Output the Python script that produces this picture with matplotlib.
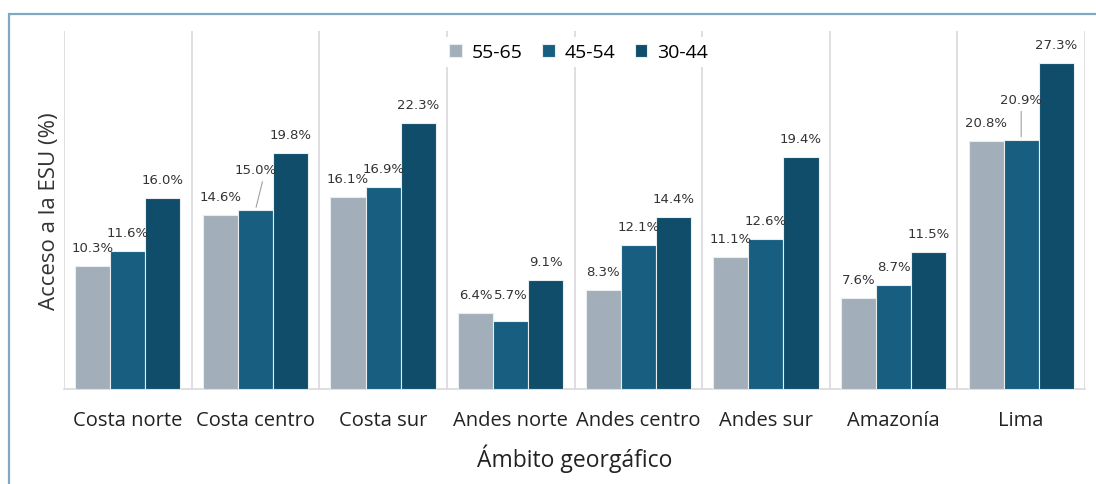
import numpy as np
import matplotlib.pyplot as plt
from matplotlib.patches import Rectangle

ambitos = ['Costa norte', 'Costa centro', 'Costa sur', 'Andes norte', 'Andes centro',
           'Andes sur', 'Amazonía', 'Lima']
grupos = ['55-65', '45-54', '30-44']
v_55_65 = [10.3, 14.6, 16.1, 6.4, 8.3, 11.1, 7.6, 20.8]
v_45_54 = [11.6, 15.0, 16.9, 5.7, 12.1, 12.6, 8.7, 20.9]
v_30_44 = [16.0, 19.8, 22.3, 9.1, 14.4, 19.4, 11.5, 27.3]
series = [v_55_65, v_45_54, v_30_44]

colores = ['#A2AFBA', '#175E80', '#0F4D6A']
# etiquetas desplazadas (pixeles extra por encima), con linea guia
extra = {(1, 1): 22, (7, 1): 22}

fig = plt.figure(figsize=(10.96, 4.85), dpi=100)
ax = fig.add_axes([64/1096, 1-390/485, (1085-64)/1096, (390-32)/485])

# marco exterior (solo se ve el borde izquierdo y el superior)
fig.patches.append(Rectangle((9/1096, -0.2), 1.2, 1.2-15/485, transform=fig.transFigure,
                             fill=False, edgecolor='#7FA8C4', linewidth=1.6))

x = np.arange(len(ambitos))
w = 0.275
for i, vals in enumerate(series):
    pos = x + (i-1)*w
    ax.bar(pos, vals, w, color=colores[i], edgecolor='#E8EDF0', linewidth=0.8,
           label=grupos[i], zorder=3)
    for j, v in enumerate(vals):
        dy = 12 + extra.get((j, i), 0)
        if (j, i) == (3, 1):
            dy = 20
        ax.annotate(f'{v:.1f}%', (pos[j], v), xytext=(0, dy), textcoords='offset pixels',
                    ha='center', va='bottom', fontsize=9.5, color='#333333', zorder=4)
        if (j, i) in extra:
            ax.annotate('', (pos[j], v), xytext=(pos[j] + (0.06 if j == 1 else 0), v + 2.6),
                        arrowprops=dict(arrowstyle='-', color='#A0A0A0', lw=0.8))

ax.set_xlim(-0.5, 7.5)
ax.set_ylim(0, 30)
for b in np.arange(-0.5, 8, 1):
    ax.axvline(b, color='#D9D9D9', lw=1.2, zorder=1)
for s in ['top', 'right', 'left']:
    ax.spines[s].set_visible(False)
ax.spines['bottom'].set_color('#D9D9D9')
ax.spines['bottom'].set_linewidth(1.2)
ax.set_yticks([])
ax.set_xticks(x)
ax.set_xticklabels(ambitos, fontsize=14.5, family='Open Sans', color='#222222')
ax.tick_params(axis='x', length=0, pad=15)
ax.set_xlabel('Ámbito georgáfico', fontsize=16.5, family='Open Sans', color='#222222', labelpad=10)
ax.set_ylabel('Acceso a la ESU (%)', fontsize=16, family='Open Sans', color='#333333', labelpad=3)

leg = ax.legend(loc='upper center', bbox_to_anchor=(0.504, 1.01), ncol=3, frameon=True,
                prop={'family': 'Open Sans', 'size': 14}, handlelength=0.65, handleheight=0.65,
                handletextpad=0.5, columnspacing=1.0, borderpad=0.3)
leg.get_frame().set_facecolor('white')
leg.get_frame().set_edgecolor('none')
leg.get_frame().set_alpha(1)
leg.set_zorder(5)

fig.savefig('out.png', dpi=100)
